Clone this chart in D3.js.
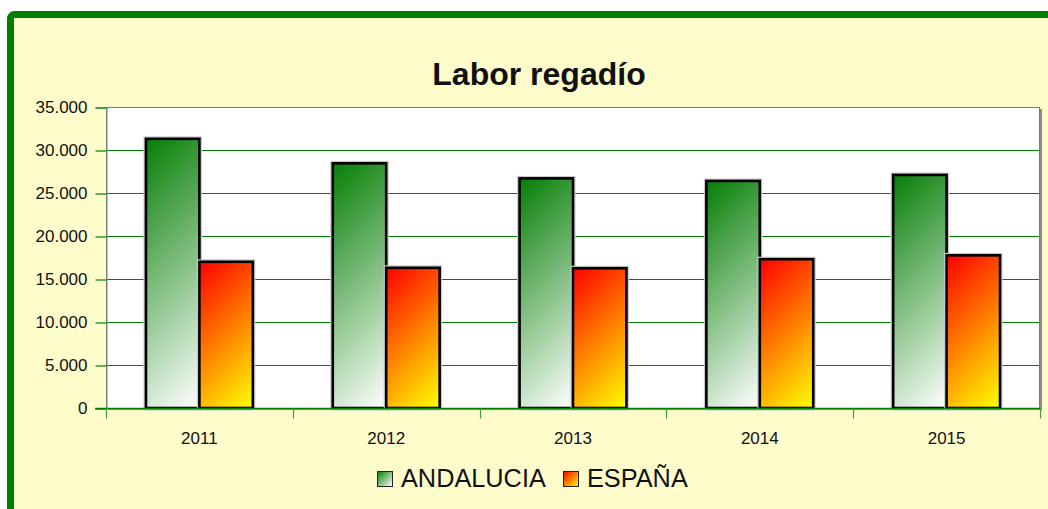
<!DOCTYPE html>
<html>
<head>
<meta charset="utf-8">
<script src="https://cdn.jsdelivr.net/npm/d3@7/dist/d3.min.js"></script>
<style>
  html, body { margin: 0; padding: 0; background: #ffffff; }
  svg { display: block; }
  text { font-family: "Liberation Sans", Arial, sans-serif; fill: #111; }
</style>
</head>
<body>
<svg id="chart" width="1048" height="509"></svg>
<script>
const years = ["2011", "2012", "2013", "2014", "2015"];
const seriesNames = ["ANDALUCIA", "ESPAÑA"];
const andalucia = [31300, 28450, 26700, 26400, 27100];
const espana = [17000, 16300, 16250, 17300, 17750];
const yTicks = [0, 5000, 10000, 15000, 20000, 25000, 30000, 35000];
const title = "Labor regadío";

const svg = d3.select("#chart");
const W = 1048, H = 509;
const plot = { left: 106, right: 1040, top: 107, bottom: 408 };

const locale = d3.formatLocale({ decimal: ",", thousands: ".", grouping: [3], currency: ["", " €"] });
const fmt = locale.format(",.0f");

const colors = [["#067e06", "#ffffff"], ["#ff0000", "#ffff00"]];
const defs = svg.append("defs");
function userGrad(id, k, x, yT, w, h) {
  const d = (w + h) / 2;
  const g = defs.append("linearGradient").attr("id", id)
    .attr("gradientUnits", "userSpaceOnUse")
    .attr("x1", x).attr("y1", yT).attr("x2", x + d).attr("y2", yT + d);
  g.append("stop").attr("offset", "0%").attr("stop-color", colors[k][0]);
  g.append("stop").attr("offset", "100%").attr("stop-color", colors[k][1]);
  return `url(#${id})`;
}
function boxGrad(id, k) {
  const g = defs.append("linearGradient").attr("id", id)
    .attr("x1", 0).attr("y1", 0).attr("x2", 1).attr("y2", 1);
  g.append("stop").attr("offset", "0%").attr("stop-color", colors[k][0]);
  g.append("stop").attr("offset", "100%").attr("stop-color", colors[k][1]);
  return `url(#${id})`;
}

// background and frame
svg.append("rect").attr("x", 10.5).attr("y", 14.5).attr("width", W + 20).attr("height", H + 20)
  .attr("rx", 4).attr("fill", "#fffccc").attr("stroke", "#008000").attr("stroke-width", 7);

// title
svg.append("text").attr("x", 539).attr("y", 85).attr("text-anchor", "middle")
  .style("font-size", "32px").style("font-weight", "bold").text(title);

// scales
const x0 = d3.scaleBand().domain(years).range([plot.left, plot.right]).paddingInner(0).paddingOuter(0);
const bw = x0.bandwidth();
const x1 = d3.scaleBand().domain(seriesNames).range([bw * 0.214, bw * 0.786]).padding(0);
const y = d3.scaleLinear().domain([0, 35000]).range([plot.bottom, plot.top]);

// plot area with shadow
svg.append("rect").attr("x", plot.left + 2).attr("y", plot.top + 2)
  .attr("width", plot.right - plot.left).attr("height", plot.bottom - plot.top)
  .attr("fill", "#8a8a8a");
svg.append("rect").attr("x", plot.left + 0.5).attr("y", plot.top + 0.5)
  .attr("width", plot.right - plot.left - 1).attr("height", plot.bottom - plot.top)
  .attr("fill", "#ffffff").attr("stroke", "#7a7a7a").attr("stroke-width", 1);

// gridlines
svg.append("g").selectAll("line").data(yTicks.filter(d => d > 0 && d < 35000)).join("line")
  .attr("x1", plot.left + 1).attr("x2", plot.right - 1)
  .attr("y1", d => Math.round(y(d)) + 0.5).attr("y2", d => Math.round(y(d)) + 0.5)
  .attr("stroke", "#008000").attr("stroke-width", 1.2);

// y axis
const yAxis = d3.axisLeft(y).tickValues(yTicks).tickFormat(fmt).tickSize(11).tickPadding(8);
const gy = svg.append("g").attr("transform", `translate(${plot.left + 0.5},0.5)`).call(yAxis);
gy.select(".domain").attr("stroke", "#6f8f6f");
gy.selectAll(".tick line").attr("stroke", "#008000").attr("stroke-width", 1.2);
gy.selectAll(".tick text").style("font-size", "17px").style("font-family", "Liberation Sans, Arial, sans-serif").attr("fill", "#111");

// bars
const vals = [andalucia, espana];
const barG = svg.append("g");
years.forEach((yr, i) => {
  seriesNames.forEach((s, k) => {
    const v = vals[k][i];
    const bx = x0(yr) + x1(s), by = y(v), w = x1.bandwidth(), h = y(0) - y(v);
    const fill = userGrad(`g${k}_${i}`, k, bx, by, w, h);
    barG.append("rect").attr("x", bx).attr("y", by).attr("width", w).attr("height", h)
      .attr("fill", "none").attr("stroke", "#c8c8c8").attr("stroke-width", 5);
    barG.append("rect").attr("x", bx).attr("y", by).attr("width", w).attr("height", h)
      .attr("fill", fill).attr("stroke", "#000").attr("stroke-width", 2.6);
  });
});

// x axis
const xAxis = d3.axisBottom(x0).tickSize(0).tickPadding(23);
const gx = svg.append("g").attr("transform", `translate(0,${plot.bottom + 0.5})`).call(xAxis);
gx.select(".domain").attr("stroke", "#008000").attr("stroke-width", 1.4).attr("d", `M${plot.left - 11},0H${plot.right}`);
gx.selectAll(".tick text").style("font-size", "17px").style("font-family", "Liberation Sans, Arial, sans-serif").attr("fill", "#111");
const bounds = years.map(d => x0(d)).concat([plot.right]);
gx.append("g").selectAll("line").data(bounds).join("line")
  .attr("x1", d => Math.round(d) + 0.5).attr("x2", d => Math.round(d) + 0.5)
  .attr("y1", 0).attr("y2", 10).attr("stroke", "#3f9a3f").attr("stroke-width", 1.2);

// legend
const legend = svg.append("g");
const legItems = [{ name: seriesNames[0], x: 377 }, { name: seriesNames[1], x: 563 }];
legItems.forEach((it, k) => {
  legend.append("rect").attr("x", it.x + 0.5).attr("y", 471.5).attr("width", 15).attr("height", 15)
    .attr("fill", boxGrad(`lg${k}`, k)).attr("stroke", "#222").attr("stroke-width", 1);
  legend.append("text").attr("x", it.x + 24).attr("y", 487).style("font-size", "25.3px").text(it.name);
});
</script>
</body>
</html>
